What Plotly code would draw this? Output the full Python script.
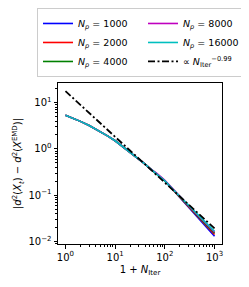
import plotly.graph_objects as go

# x = 1 + N_iter
x_iter = [1, 1.5, 2, 3, 4, 5, 7, 10, 15, 20, 30, 40, 50, 70, 100, 150, 200, 300, 400, 500, 700, 1000]

head = [5.37, 4.52, 3.94, 3.20, 2.72, 2.37, 1.91, 1.50, 1.08, 0.85, 0.60, 0.468, 0.38]

err_1000 = head + [0.285, 0.204, 0.126, 0.0891, 0.0550, 0.0385, 0.0295, 0.0195, 0.0129]
err_2000 = head + [0.285, 0.204, 0.127, 0.0908, 0.0569, 0.0406, 0.0313, 0.0210, 0.0141]
err_4000 = head + [0.285, 0.204, 0.128, 0.0916, 0.0582, 0.0419, 0.0325, 0.0221, 0.0151]
err_8000 = head + [0.292, 0.209, 0.130, 0.0929, 0.0592, 0.0431, 0.0337, 0.0231, 0.0158]
err_16000 = head + [0.285, 0.204, 0.129, 0.0930, 0.0600, 0.0442, 0.0347, 0.0240, 0.0166]

fit_x = [1, 1000]
fit_y = [17.8, 0.0191]

series = [
    ("1000", err_1000, "#0000ff", 1),
    ("2000", err_2000, "#ff0000", 3),
    ("4000", err_4000, "#008000", 5),
    ("8000", err_8000, "#bf00bf", 2),
    ("16000", err_16000, "#00bfbf", 4),
]

fig = go.Figure()
for lab, ys, col, rank in series:
    fig.add_trace(go.Scatter(
        x=x_iter, y=ys, mode="lines",
        line=dict(color=col, width=1.6),
        name="<i>N</i><sub><i>p</i></sub> = " + lab,
        legendrank=rank,
    ))
fig.add_trace(go.Scatter(
    x=fit_x, y=fit_y, mode="lines",
    line=dict(color="black", width=1.8, dash="7px,2.5px,2px,2.5px"),
    name="\u221d <i>N</i><sub>Iter</sub><sup>\u22120.99</sup>",
    legendrank=6,
))

xticks = [1, 10, 100, 1000]
xtext = ["10<sup>0</sup>", "10<sup>1</sup>", "10<sup>2</sup>", "10<sup>3</sup>"]
yticks = [0.01, 0.1, 1, 10]
ytext = ["10<sup>\u22122</sup>", "10<sup>\u22121</sup>", "10<sup>0</sup>", "10<sup>1</sup>"]

xminor = [m * 10 ** e for e in range(0, 3) for m in range(2, 10)]
yminor = [m * 10 ** e for e in range(-3, 2) for m in range(2, 10)]

axis_common = dict(
    type="log", showgrid=False, zeroline=False,
    showline=True, linecolor="black", linewidth=1, mirror=True,
    ticks="outside", ticklen=3.5, tickwidth=1, tickcolor="black",
    tickfont=dict(size=10, color="black"),
)

fig.update_xaxes(
    **axis_common, range=[-0.15, 3.15],
    tickmode="array", tickvals=xticks, ticktext=xtext,
    minor=dict(tickmode="array", tickvals=xminor, ticks="outside", ticklen=2, tickcolor="black"),
    title=dict(text="1 + <i>N</i><sub>Iter</sub>", font=dict(size=10, color="black"), standoff=4),
)
fig.update_yaxes(
    **axis_common, range=[-2.056, 1.425],
    tickmode="array", tickvals=yticks, ticktext=ytext,
    minor=dict(tickmode="array", tickvals=yminor, ticks="outside", ticklen=2, tickcolor="black"),
    title=dict(text="|<i>d</i><sup>2</sup>(<i>X</i><sub><i>t</i></sub>) \u2212 <i>d</i><sup>2</sup>(<i>X</i><sup>EMD</sup>)|",
               font=dict(size=10, color="black"), standoff=4),
)

fig.update_layout(
    width=249, height=287,
    margin=dict(l=50, r=35, t=75, b=51, autoexpand=False),
    paper_bgcolor="white", plot_bgcolor="white",
    font=dict(family="DejaVu Sans", size=10, color="black"),
    legend=dict(
        orientation="h", x=-0.128, y=1.466, xanchor="left", yanchor="top",
        entrywidth=60, entrywidthmode="pixels",
        bordercolor="#cccccc", borderwidth=1, bgcolor="white",
        font=dict(size=9.5), itemwidth=30, traceorder="normal",
        tracegroupgap=0,
    ),
    showlegend=True,
)

fig.write_html("out.html")
